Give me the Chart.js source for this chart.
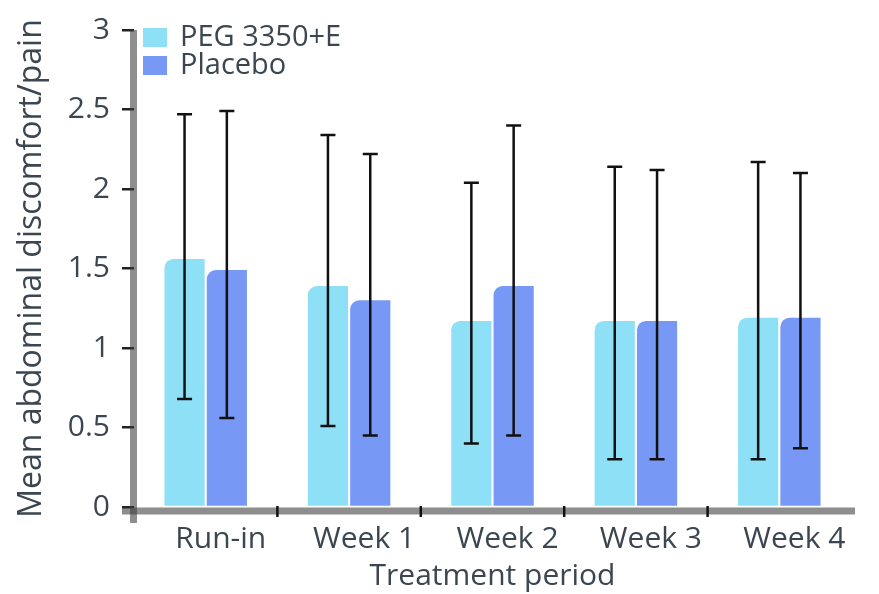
<!DOCTYPE html>
<html>
<head>
<meta charset="utf-8">
<script src="https://cdn.jsdelivr.net/npm/chart.js@4/dist/chart.umd.min.js"></script>
<style>
  html, body { margin: 0; padding: 0; background: #ffffff; }
  #wrap { width: 879px; height: 594px; position: relative; }
</style>
</head>
<body>
<div id="wrap"><canvas id="chart"></canvas></div>
<script>
// Mean abdominal discomfort/pain by treatment period, with error bars
const categories = ['Run-in', 'Week 1', 'Week 2', 'Week 3', 'Week 4'];
const seriesNames = ['PEG 3350+E', 'Placebo'];

const pegMean = [1.56, 1.39, 1.17, 1.17, 1.19];
const pegLow = [0.68, 0.51, 0.40, 0.30, 0.30];
const pegHigh = [2.47, 2.34, 2.04, 2.14, 2.17];

const placeboMean = [1.49, 1.30, 1.39, 1.17, 1.19];
const placeboLow = [0.56, 0.45, 0.45, 0.30, 0.37];
const placeboHigh = [2.49, 2.22, 2.40, 2.12, 2.10];

const yMin = 0;
const yMax = 3;
const yStep = 0.5;

const FONT = "'Open Sans', sans-serif";
const TEXT = '#3b4650';
const AXIS = 'rgba(60, 60, 60, 0.58)';
const colors = ['#8ee0f7', '#7799f5'];
const errorLows = [pegLow, placeboLow];
const errorHighs = [pegHigh, placeboHigh];

// Error bars drawn on top of each bar
const errorBars = {
  id: 'errorBars',
  afterDatasetsDraw(chart) {
    const ctx = chart.ctx;
    const y = chart.scales.y;
    ctx.save();
    ctx.strokeStyle = '#111111';
    ctx.lineWidth = 2.5;
    chart.data.datasets.forEach((ds, i) => {
      const meta = chart.getDatasetMeta(i);
      meta.data.forEach((bar, j) => {
        const x = bar.x;
        const top = y.getPixelForValue(errorHighs[i][j]);
        const bot = y.getPixelForValue(errorLows[i][j]);
        const cap = 7.5;
        ctx.beginPath();
        ctx.moveTo(x, top); ctx.lineTo(x, bot);
        ctx.moveTo(x - cap, top); ctx.lineTo(x + cap, top);
        ctx.moveTo(x - cap, bot); ctx.lineTo(x + cap, bot);
        ctx.stroke();
      });
    });
    ctx.restore();
  }
};

// Thick grey axis lines, category separator ticks and the legend
const axesAndLegend = {
  id: 'axesAndLegend',
  afterDraw(chart) {
    const ctx = chart.ctx;
    const a = chart.chartArea;
    const xs = chart.scales.x;
    ctx.save();
    // axes
    ctx.strokeStyle = AXIS;
    ctx.lineWidth = 7;
    ctx.lineCap = 'butt';
    ctx.beginPath();
    ctx.moveTo(a.left - 12, a.bottom + 4);
    ctx.lineTo(a.right + 4, a.bottom + 4);
    ctx.stroke();
    ctx.beginPath();
    ctx.moveTo(a.left - 0.5, a.top);
    ctx.lineTo(a.left - 0.5, a.bottom + 16);
    ctx.stroke();
    // separator ticks between categories
    ctx.strokeStyle = '#111111';
    ctx.lineWidth = 2.5;
    for (let i = 0; i < categories.length - 1; i++) {
      const xm = (xs.getPixelForTick(i) + xs.getPixelForTick(i + 1)) / 2;
      ctx.beginPath();
      ctx.moveTo(xm, a.bottom - 1);
      ctx.lineTo(xm, a.bottom + 10);
      ctx.stroke();
    }
    // legend
    ctx.font = '29px ' + FONT;
    ctx.textBaseline = 'middle';
    ctx.textAlign = 'left';
    chart.data.datasets.forEach((ds, i) => {
      const bx = a.left + 9;
      const by = a.top - 2 + i * 28;
      ctx.fillStyle = ds.backgroundColor;
      ctx.fillRect(bx, by, 24, 19);
      ctx.fillStyle = TEXT;
      ctx.fillText(ds.label, bx + 37, by + 10);
    });
    ctx.restore();
  }
};

new Chart(document.getElementById('chart'), {
  type: 'bar',
  data: {
    labels: categories,
    datasets: [
      {
        label: seriesNames[0],
        data: pegMean,
        backgroundColor: colors[0],
        borderRadius: { topLeft: 9, topRight: 0, bottomLeft: 0, bottomRight: 0 },
        borderSkipped: 'start',
        categoryPercentage: 0.59,
        barPercentage: 0.95
      },
      {
        label: seriesNames[1],
        data: placeboMean,
        backgroundColor: colors[1],
        borderRadius: { topLeft: 9, topRight: 0, bottomLeft: 0, bottomRight: 0 },
        borderSkipped: 'start',
        categoryPercentage: 0.59,
        barPercentage: 0.95
      }
    ]
  },
  options: {
    responsive: true,
    maintainAspectRatio: false,
    animation: false,
    layout: { padding: { top: 27, right: 28, bottom: 0, left: 0 } },
    plugins: {
      legend: { display: false },
      tooltip: { enabled: false }
    },
    scales: {
      x: {
        afterFit(scale) { scale.height = 87; },
        grid: { display: false },
        border: { display: false },
        ticks: {
          color: TEXT,
          font: { family: FONT, size: 30 },
          padding: 6,
          labelOffset: 15,
          maxRotation: 0,
          autoSkip: false
        },
        title: {
          display: true,
          text: 'Treatment period',
          color: TEXT,
          font: { family: FONT, size: 30 },
          padding: { top: 0, bottom: 0 }
        }
      },
      y: {
        min: yMin,
        max: yMax,
        afterFit(scale) { scale.width = 134; },
        grid: {
          drawOnChartArea: false,
          drawTicks: true,
          tickLength: 12,
          color: '#222222',
          lineWidth: 2.5
        },
        border: { display: false },
        ticks: {
          stepSize: yStep,
          color: TEXT,
          font: { family: FONT, size: 30 },
          padding: 12,
          callback: (v) => String(v)
        },
        title: {
          display: true,
          text: 'Mean abdominal discomfort/pain',
          color: TEXT,
          font: { family: FONT, size: 32 },
          padding: { top: 13, bottom: 0 }
        }
      }
    }
  },
  plugins: [errorBars, axesAndLegend]
});
</script>
</body>
</html>
